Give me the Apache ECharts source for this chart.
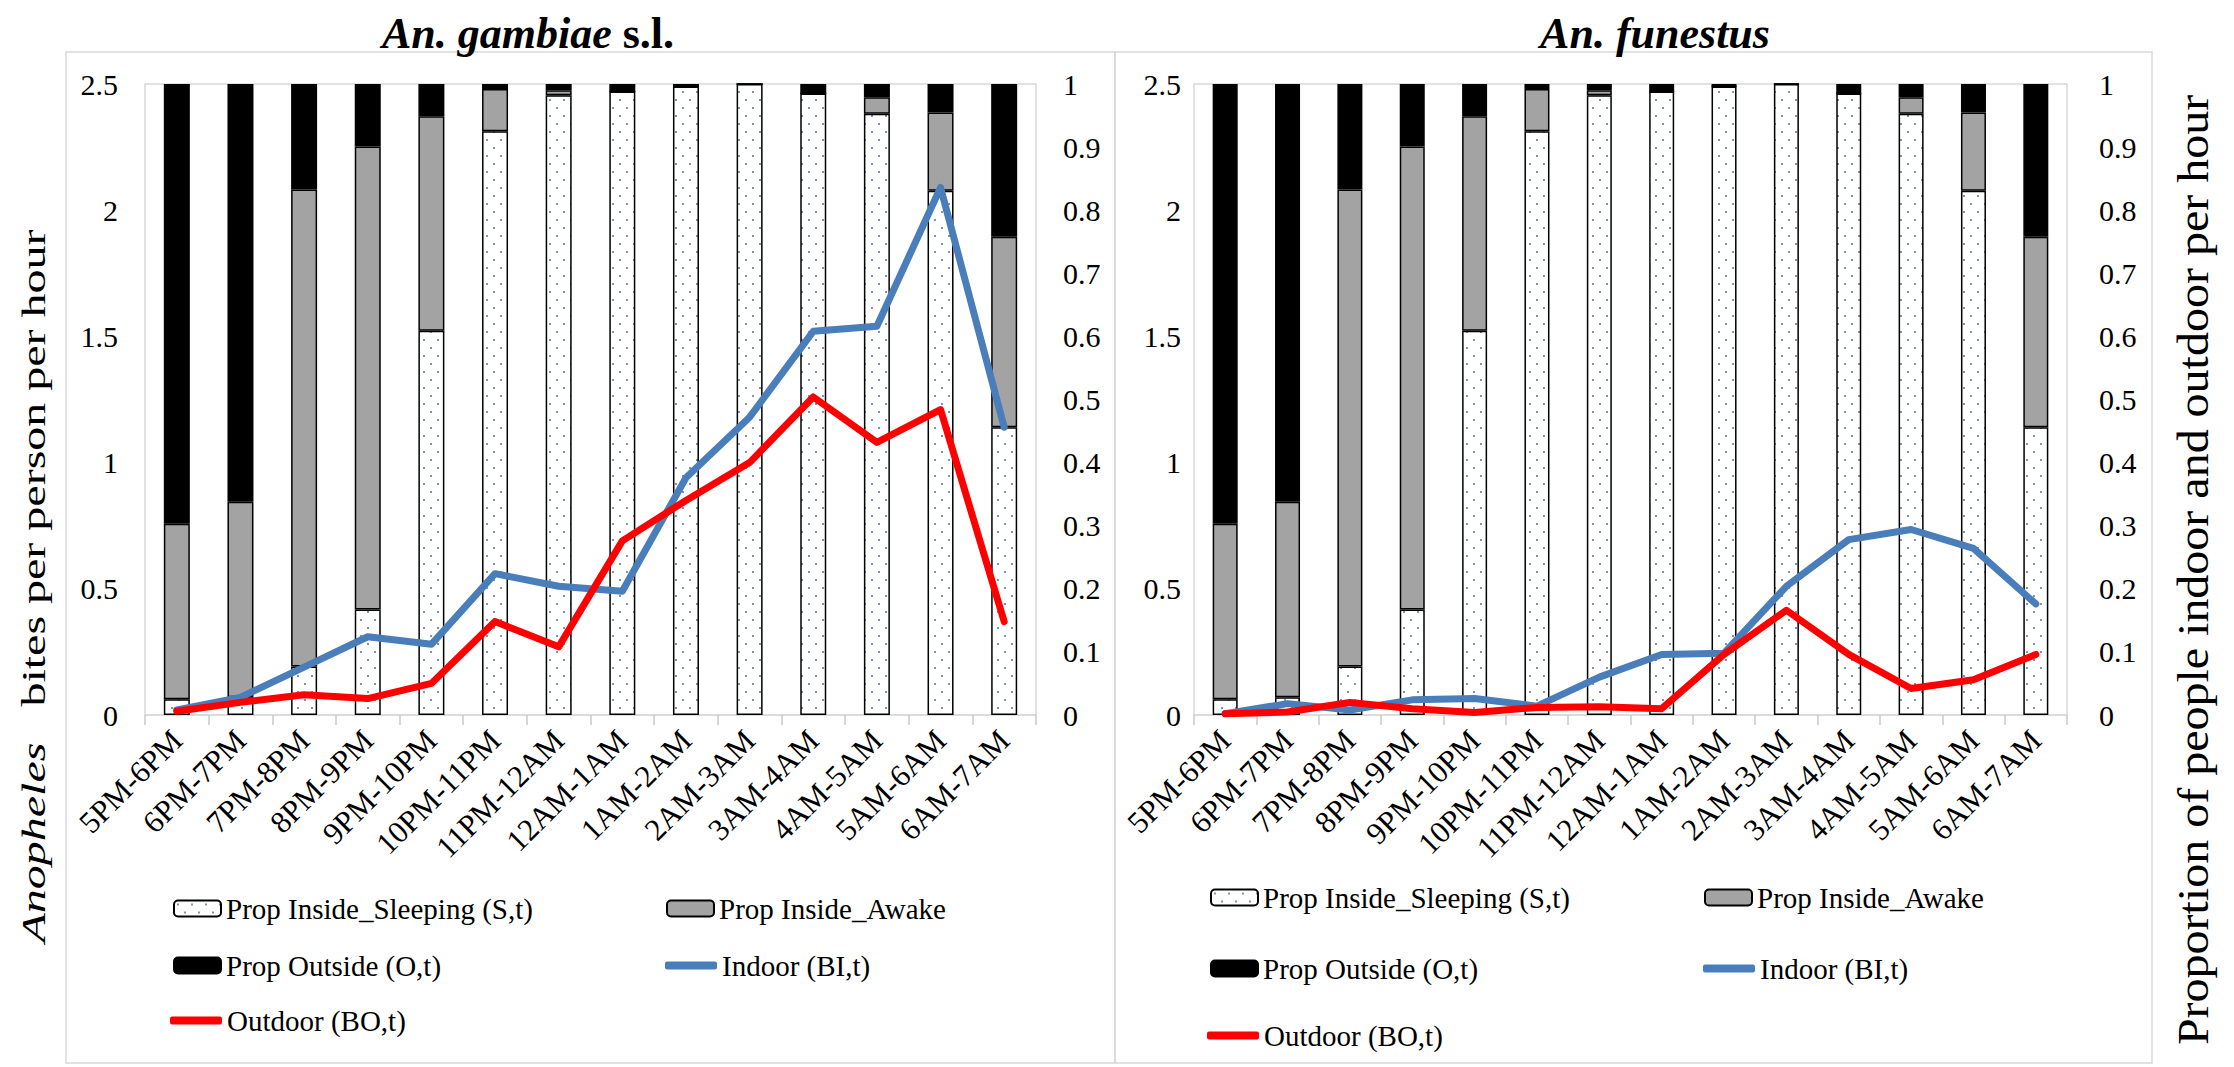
<!DOCTYPE html>
<html>
<head>
<meta charset="utf-8">
<script src="https://cdn.jsdelivr.net/npm/echarts@6/dist/echarts.min.js"></script>
<style>
html,body{margin:0;padding:0;background:#fff;}
#chart{width:2234px;height:1067px;}
</style>
</head>
<body>
<div id="chart"></div>
<script>
const categories = ['5PM-6PM','6PM-7PM','7PM-8PM','8PM-9PM','9PM-10PM','10PM-11PM','11PM-12AM','12AM-1AM','1AM-2AM','2AM-3AM','3AM-4AM','4AM-5AM','5AM-6AM','6AM-7AM'];
const bitesTicks = [0, 0.5, 1, 1.5, 2, 2.5];
const propTicks = [0, 0.1, 0.2, 0.3, 0.4, 0.5, 0.6, 0.7, 0.8, 0.9, 1];

// proportions of people (same for both panels)
const propSleeping = [0.025, 0.028, 0.077, 0.167, 0.609, 0.925, 0.982, 0.988, 0.996, 1.000, 0.985, 0.953, 0.831, 0.456];
const propAwake    = [0.278, 0.310, 0.756, 0.734, 0.340, 0.067, 0.008, 0.000, 0.000, 0.000, 0.000, 0.026, 0.124, 0.302];
const propOutside  = [0.697, 0.662, 0.167, 0.099, 0.051, 0.008, 0.010, 0.012, 0.004, 0.000, 0.015, 0.021, 0.045, 0.242];

// An. gambiae s.l. bites per person per hour
const indoorGambiae  = [0.02, 0.07, 0.19, 0.31, 0.28, 0.56, 0.51, 0.49, 0.94, 1.18, 1.52, 1.54, 2.09, 1.14];
const outdoorGambiae = [0.015, 0.05, 0.08, 0.065, 0.125, 0.37, 0.27, 0.69, 0.85, 1.00, 1.26, 1.08, 1.21, 0.37];

// An. funestus bites per person per hour
const indoorFunestus  = [0.005, 0.045, 0.02, 0.06, 0.065, 0.035, 0.15, 0.24, 0.245, 0.51, 0.695, 0.735, 0.66, 0.44];
const outdoorFunestus = [0.005, 0.012, 0.05, 0.025, 0.01, 0.03, 0.033, 0.025, 0.24, 0.415, 0.24, 0.105, 0.14, 0.24];

const FONT = 'Liberation Serif';
const BLUE = '#4a7ebb', RED = '#ff0000', GREY = '#a3a3a3';

const pc = document.createElement('canvas');
pc.width = 14; pc.height = 16;
const pctx = pc.getContext('2d');
pctx.fillStyle = '#ffffff'; pctx.fillRect(0, 0, 14, 16);
pctx.fillStyle = '#7f93b3';
pctx.fillRect(3, 3, 2, 2);
pctx.fillRect(10, 11, 2, 2);
const dotPattern = { image: pc.toDataURL(), repeat: 'repeat', imageWidth: 14, imageHeight: 16 };

const NAMES = ['Prop Inside_Sleeping (S,t)', 'Prop Inside_Awake', 'Prop Outside (O,t)', 'Indoor (BI,t)', 'Outdoor (BO,t)'];
const TXT = { fontFamily: FONT, color: '#000' };

function xAxis(gi) {
  return {
    type: 'category', gridIndex: gi, data: categories, boundaryGap: true,
    axisLine: { lineStyle: { color: '#d9d9d9', width: 1.5 } },
    axisTick: { show: true, interval: 0, length: 10, lineStyle: { color: '#c8c8c8', width: 1.5 } },
    axisLabel: Object.assign({ interval: 0, rotate: 45, margin: 20, fontSize: 31 }, TXT)
  };
}
function yAxis(gi, pos, max, interval, margin) {
  return {
    type: 'value', gridIndex: gi, position: pos, min: 0, max: max, interval: interval,
    axisLine: { show: false }, axisTick: { show: false }, splitLine: { show: false },
    axisLabel: Object.assign({ margin: margin, fontSize: 30 }, TXT)
  };
}
function bars(gi, stack, width) {
  const common = { type: 'bar', xAxisIndex: gi, yAxisIndex: gi * 2 + 1, stack: stack, barWidth: width };
  return [
    Object.assign({ name: NAMES[0], data: propSleeping, itemStyle: { color: dotPattern, borderColor: '#000', borderWidth: 1.5 } }, common),
    Object.assign({ name: NAMES[1], data: propAwake, itemStyle: { color: GREY, borderColor: '#000', borderWidth: 1.5 } }, common),
    Object.assign({ name: NAMES[2], data: propOutside, itemStyle: { color: '#000', borderColor: '#000', borderWidth: 1.5 } }, common)
  ];
}
function lines(gi, indoor, outdoor) {
  const common = { type: 'line', xAxisIndex: gi, yAxisIndex: gi * 2, symbol: 'none', z: 5 };
  return [
    Object.assign({ name: NAMES[3], data: indoor, color: BLUE, lineStyle: { color: BLUE, width: 7, cap: 'round', join: 'round' } }, common),
    Object.assign({ name: NAMES[4], data: outdoor, color: RED, lineStyle: { color: RED, width: 7, cap: 'round', join: 'round' } }, common)
  ];
}
function legend(name, left, top, isLine, color) {
  const item = { name: name };
  if (isLine) { item.icon = 'roundRect'; item.itemStyle = { color: color, borderWidth: 0 }; }
  return {
    data: [item], left: left, top: top, padding: 0, selectedMode: false,
    itemWidth: isLine ? 52 : 47, itemHeight: isLine ? 8 : 16, itemGap: 0,
    textStyle: Object.assign({ fontSize: 29, padding: [0, 0, 0, 0] }, TXT)
  };
}

const option = {
  backgroundColor: '#fff',
  animation: false,
  textStyle: { fontFamily: FONT },
  grid: [
    { left: 145, top: 84, width: 891, height: 631, show: true, borderColor: '#d9d9d9', borderWidth: 1.5, backgroundColor: 'transparent' },
    { left: 1194, top: 84, width: 873, height: 631, show: true, borderColor: '#d9d9d9', borderWidth: 1.5, backgroundColor: 'transparent' }
  ],
  xAxis: [xAxis(0), xAxis(1)],
  yAxis: [
    yAxis(0, 'left', bitesTicks[bitesTicks.length - 1], 0.5, 27),
    yAxis(0, 'right', propTicks[propTicks.length - 1], 0.1, 27),
    yAxis(1, 'left', bitesTicks[bitesTicks.length - 1], 0.5, 13),
    yAxis(1, 'right', propTicks[propTicks.length - 1], 0.1, 32)
  ],
  legend: [
    legend(NAMES[0], 173, 894, false),
    legend(NAMES[1], 666, 894, false),
    legend(NAMES[2], 173, 951, false),
    legend(NAMES[3], 665, 951, true, BLUE),
    legend(NAMES[4], 170, 1006, true, RED),
    legend(NAMES[0], 1210, 883, false),
    legend(NAMES[1], 1704, 883, false),
    legend(NAMES[2], 1210, 954, false),
    legend(NAMES[3], 1703, 954, true, BLUE),
    legend(NAMES[4], 1207, 1021, true, RED)
  ],
  series: [].concat(
    bars(0, 'g', 26), lines(0, indoorGambiae, outdoorGambiae),
    bars(1, 'f', 25), lines(1, indoorFunestus, outdoorFunestus)
  ),
  graphic: [
    { type: 'rect', shape: { x: 66, y: 52, width: 1049, height: 1011 }, style: { fill: 'none', stroke: '#d9d9d9', lineWidth: 1.5 }, silent: true },
    { type: 'rect', shape: { x: 1115, y: 52, width: 1037, height: 1011 }, style: { fill: 'none', stroke: '#d9d9d9', lineWidth: 1.5 }, silent: true },
    { type: 'text', x: 528, y: 33, style: {
        text: '{i|An. gambiae}{b| s.l.}', align: 'center', verticalAlign: 'middle',
        rich: { i: { fontFamily: FONT, fontSize: 44, fontWeight: 'bold', fontStyle: 'italic', fill: '#000' },
                b: { fontFamily: FONT, fontSize: 44, fontWeight: 'bold', fill: '#000' } } } },
    { type: 'text', x: 1655, y: 33, style: {
        text: '{i|An. funestus}', align: 'center', verticalAlign: 'middle',
        rich: { i: { fontFamily: FONT, fontSize: 44, fontWeight: 'bold', fontStyle: 'italic', fill: '#000' } } } },
    { type: 'text', x: 34, y: 586, rotation: Math.PI / 2, scaleY: 0.7, style: {
        text: '{i|Anopheles}{n|   bites per person per hour}', align: 'center', verticalAlign: 'middle',
        rich: { i: { fontFamily: FONT, fontSize: 48, fontStyle: 'italic', fill: '#000' },
                n: { fontFamily: FONT, fontSize: 48, fill: '#000' } } } },
    { type: 'text', x: 2193, y: 570, rotation: Math.PI / 2, scaleY: 0.92, style: {
        text: 'Proportion of people indoor and outdoor per hour', align: 'center', verticalAlign: 'middle',
        fontFamily: FONT, fontSize: 48, fill: '#000' } }
  ]
};

const chart = echarts.init(document.getElementById('chart'), null, { renderer: 'svg' });
chart.setOption(option);
</script>
</body>
</html>
